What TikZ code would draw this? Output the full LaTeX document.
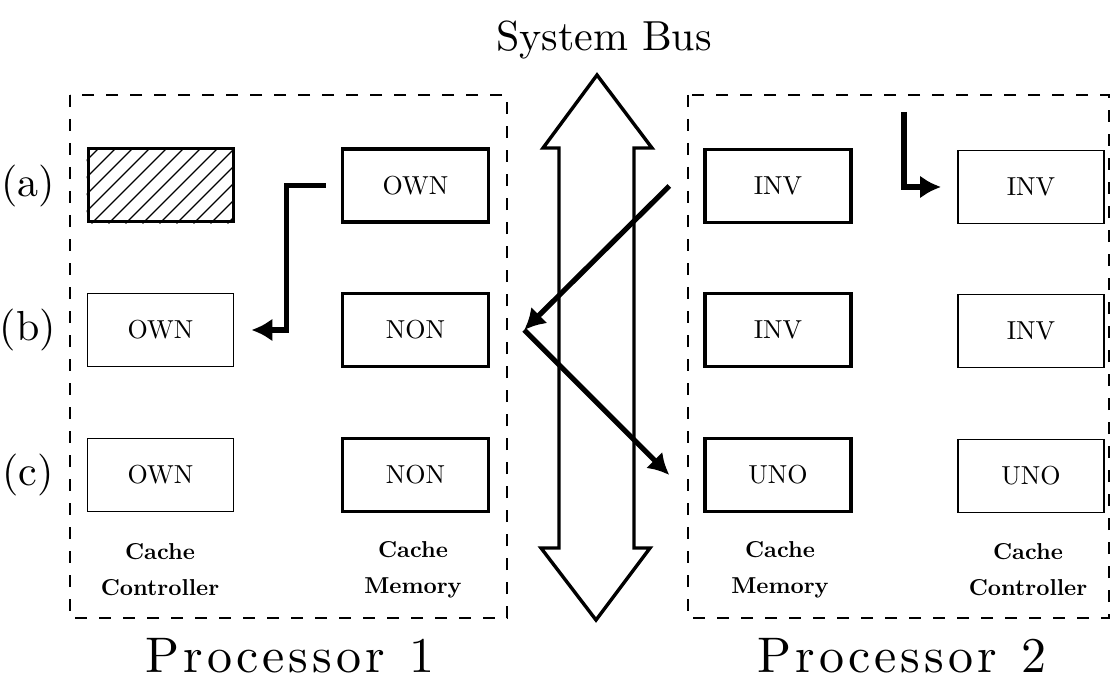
\documentclass[tikz,border=0pt]{standalone}
\usepackage{fontspec}
\setmainfont{lmroman10-regular.otf}[BoldFont=lmroman10-bold.otf, ItalicFont=lmroman10-italic.otf]
\usetikzlibrary{arrows.meta,calc}
\newcommand\myls{\kern4pt}
\begin{document}
\begin{tikzpicture}[x=1pt,y=-1pt,
  cell/.style={draw, minimum width=146, minimum height=73, inner sep=0pt,
    font=\fontsize{26}{32}\selectfont},
  memcell/.style={cell, line width=3.4},
  ctlcell/.style={cell, line width=1.8},
  hatchbox/.style={draw, minimum width=145, minimum height=73, inner sep=0pt, line width=3},
  proc/.style={draw, dash pattern=on 12pt off 12pt, line width=2},
  conn/.style={line width=5.2, -{Latex[length=21pt,width=23pt]}},
  capl/.style={font=\fontsize{23}{36}\selectfont\bfseries, align=center},
  rowl/.style={font=\fontsize{42}{50}\selectfont},
  title/.style={font=\fontsize{42}{50}\selectfont},
  ptitle/.style={font=\fontsize{50}{56}\selectfont},
  bus/.style={draw, line width=3.4, line join=miter}
]
\useasboundingbox (0,0) rectangle (1112,682);

% titles
\node[title] (sysbus) at (604,40) {System Bus};
\node[ptitle] (p1) at (290,656) {P\myls r\myls o\myls c\myls e\myls s\myls s\myls o\myls r\myls\ \myls 1};
\node[ptitle] (p2) at (902,656) {P\myls r\myls o\myls c\myls e\myls s\myls s\myls o\myls r\myls\ \myls 2};

% processor frames
\draw[proc] (70,95) rectangle (507,618);
\draw[proc] (688,95) rectangle (1109,618);

% row labels
\node[rowl] (la) at (28,186) {(a)};
\node[rowl] (lb) at (28,330) {(b)};
\node[rowl] (lc) at (28,475) {(c)};

% processor 1 cells
\node[hatchbox] (hat) at (160.5,185.5) {};
\begin{scope}
  \clip (hat.south west) rectangle (hat.north east);
  \foreach \i in {0,...,14}
    \draw[line width=1.2] ($(hat.south west)+(\i*17-80,0)$) -- ++(100,-100);
\end{scope}
\node[hatchbox] at (hat) {};
\node[memcell] (memA) at (415.5,185.5) {OWN};
\node[ctlcell] (ctlB) at (160.5,330) {OWN};
\node[memcell] (memB) at (415.5,330) {NON};
\node[ctlcell] (ctlC) at (160.5,475) {OWN};
\node[memcell] (memC) at (415.5,475) {NON};

% processor 2 cells
\node[memcell] (rmemA) at (778,186) {INV};
\node[ctlcell] (rctlA) at (1031,187) {INV};
\node[memcell] (rmemB) at (778,330) {INV};
\node[ctlcell] (rctlB) at (1031,331) {INV};
\node[memcell] (rmemC) at (778,475) {UNO};
\node[ctlcell] (rctlC) at (1031,476) {UNO};

% column labels
\node[capl] (cl1) at (160,570) {Cache\\Controller};
\node[capl] (cl2) at (413,570) {Cache\\Memory};
\node[capl] (cl3) at (780,570) {Cache\\Memory};
\node[capl] (cl4) at (1028,570) {Cache\\Controller};

% system bus double arrow
\draw[bus] (597,75) -- (652,148) -- (634,148) -- (634,548) -- (650,548)
  -- (596,620) -- (541,548) -- (559,548) -- (559,148) -- (543,148) -- cycle;

% connectors
\coordinate (bounce) at ([xshift=34]memB.east);
\coordinate (srcA) at ([xshift=-34]rmemA.west);
\draw[conn] (srcA) -- (bounce);
\draw[conn] (bounce) -- ([xshift=-34]rmemC.west);

\draw[conn, line join=miter] ([xshift=-15]memA.west) -- ++(-39,0) |- ([xshift=17]ctlB.east);

\coordinate (snoop) at (904,112);
\draw[conn, line join=miter] (snoop) |- ([xshift=-16]rctlA.west);
\end{tikzpicture}
\end{document}
